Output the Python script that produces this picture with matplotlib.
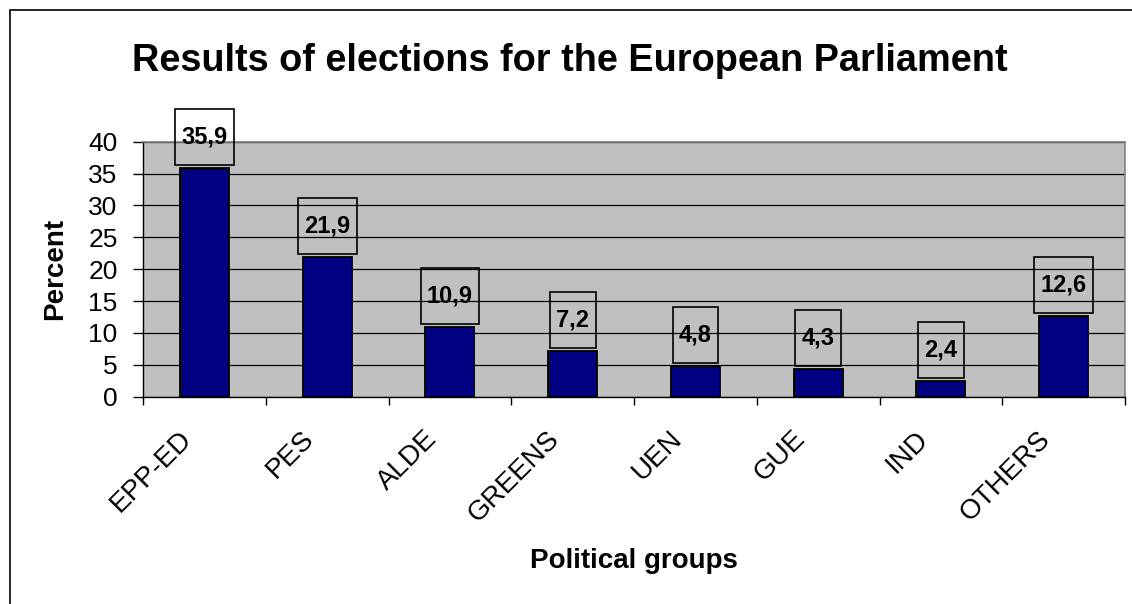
import matplotlib
matplotlib.use("Agg")
import matplotlib.pyplot as plt
from matplotlib.path import Path
from matplotlib.patches import Rectangle
from matplotlib.ticker import FixedLocator
from matplotlib.transforms import ScaledTranslation

plt.rcParams['font.family'] = ['Liberation Sans', 'DejaVu Sans']

# data
groups = ['EPP-ED', 'PES', 'ALDE', 'GREENS', 'UEN', 'GUE', 'IND', 'OTHERS']
values = [35.9, 21.9, 10.9, 7.2, 4.8, 4.3, 2.4, 12.6]
yticks = [0, 5, 10, 15, 20, 25, 30, 35, 40]


def label_box(x0, y0, width, height, mutation_size):
    # Excel style label frame: small side padding, fixed tall height
    padx = 0.27 * mutation_size
    hh = 1.19 * mutation_size
    cy = y0 + height / 2
    verts = [(x0 - padx, cy - hh), (x0 + width + padx, cy - hh),
             (x0 + width + padx, cy + hh), (x0 - padx, cy + hh),
             (x0 - padx, cy - hh)]
    return Path(verts, closed=True)


fig = plt.figure(figsize=(11.32, 6.04), dpi=100)
ax = fig.add_axes([143 / 1132, 1 - 396.7 / 604, 982 / 1132, 255 / 604])
ax.set_facecolor('#C0C0C0')

x = list(range(len(groups)))
ax.bar(x, values, width=0.4, color='#000080', edgecolor='black', linewidth=1.3, zorder=3)

for xi, v in zip(x, values):
    ax.annotate(f"{v:.1f}".replace('.', ','), xy=(xi, v), xytext=(0, 31),
                textcoords='offset pixels', ha='center', va='center',
                fontsize=17, fontweight='bold', zorder=4,
                bbox=dict(boxstyle=label_box, fc='none', ec='black', lw=1.2))

ax.set_xlim(-0.5, len(groups) - 0.5)
ax.set_ylim(0, 40)
ax.set_yticks(yticks)
ax.yaxis.grid(True, color='black', linewidth=0.9, zorder=1)
ax.set_axisbelow(True)

ax.set_xticks(x)
ax.set_xticklabels(groups, fontsize=20, rotation=45, ha='right', va='center',
                   rotation_mode='anchor')
ax.xaxis.set_minor_locator(FixedLocator([i - 0.5 for i in range(len(groups) + 1)]))
ax.tick_params(axis='x', which='major', length=0, pad=27.5)
ax.tick_params(axis='x', which='minor', length=6, width=1, direction='out')
ax.tick_params(axis='y', labelsize=19, length=7.2, width=1, pad=11)
shift = ScaledTranslation(-17 / 100, 0, fig.dpi_scale_trans)
for lab in ax.get_xticklabels():
    lab.set_transform(lab.get_transform() + shift)

for side in ['top', 'right']:
    ax.spines[side].set_color('#808080')
    ax.spines[side].set_linewidth(1.2)
for side in ['left', 'bottom']:
    ax.spines[side].set_color('black')
    ax.spines[side].set_linewidth(1.0)

ax.set_ylabel('Percent', fontsize=20, fontweight='bold')
ax.yaxis.set_label_coords(-0.076, 0.5)
ax.set_xlabel('Political groups', fontsize=20, fontweight='bold')
ax.xaxis.set_label_coords(0.5, -0.594)

fig.text(570 / 1132, 1 - 71 / 604, 'Results of elections for the European Parliament',
         ha='center', va='baseline', fontsize=27.3, fontweight='bold')

fig.patches.append(Rectangle((10 / 1132, -0.1), 1.5, 1 - 10 / 604 + 0.1,
                             transform=fig.transFigure, fill=False,
                             edgecolor='black', linewidth=1.2))

fig.savefig('out.png', dpi=100)
